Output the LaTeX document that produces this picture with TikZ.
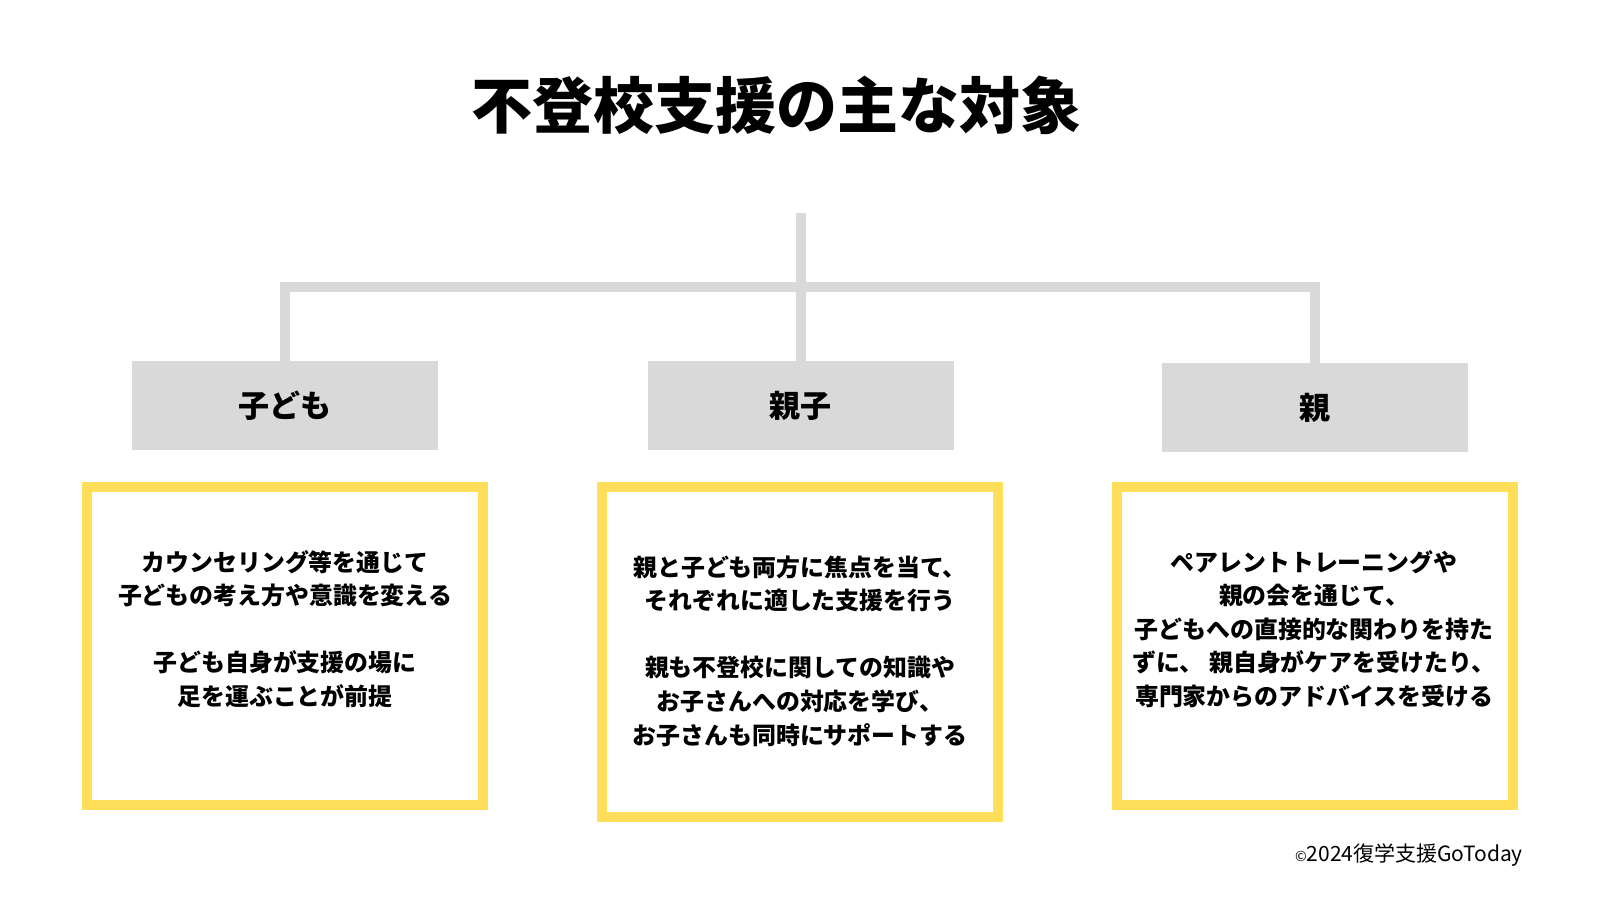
\documentclass[tikz,border=0pt]{standalone}
\usepackage{fontspec}
\setmainfont{Noto Sans CJK JP}
\definecolor{linegray}{HTML}{D9D9D9}
\definecolor{boxyellow}{HTML}{FFDE59}
\begin{document}
\begin{tikzpicture}[x=1pt,y=-1pt,
  catbox/.style={fill=linegray,draw=none,minimum width=306pt,minimum height=89pt,inner sep=0pt,
    font=\fontsize{31}{31}\selectfont\bfseries},
  framebox/.style={draw=boxyellow,line width=10pt,fill=white},
  bodytext/.style={align=center,inner sep=0pt,font=\fontsize{23.9}{33.6}\selectfont\bfseries},
  tree/.style={draw=linegray,line width=10pt}]
\useasboundingbox (0,0) rectangle (1600,900);
\fill[white] (0,0) rectangle (1600,900);
% title
\node[font=\fontsize{61}{61}\selectfont\bfseries,inner sep=0pt] (title) at (776,105) {不登校支援の主な対象};
% category boxes
\node[catbox] (kodomo) at (284.7,405.5) {子ども};
\node[catbox] (oyako) at (800.5,405.5) {親子};
\node[catbox] (oya) at (1315,407.5) {親};
% tree connectors
\coordinate (root) at (800.5,213);
\coordinate (joint) at (800.5,287);
\draw[tree] (root) -- (joint);
\draw[tree] (kodomo.north) |- (joint) -| (oya.north);
\draw[tree] (joint) -- (oyako.north);
% yellow frames
\draw[framebox] (86.7,487) rectangle (483,805);
\draw[framebox] (601.7,487) rectangle (998,817);
\draw[framebox] (1116.7,487) rectangle (1513,805);
% texts
\node[bodytext] (t1) at (285,629) {カウンセリング等を通じて\\子どもの考え方や意識を変える\\[33.6pt]子ども自身が支援の場に\\足を運ぶことが前提};
\node[bodytext] (t2) at (800,651) {親と子ども両方に焦点を当て、\\ それぞれに適した支援を行う\\[33.6pt]親も不登校に関しての知識や\\お子さんへの対応を学び、\\お子さんも同時にサポートする};
\node[bodytext] (t3) at (1314,629) {ペアレントトレーニングや\\親の会を通じて、\\子どもへの直接的な関わりを持た\\ずに、 親自身がケアを受けたり、\\専門家からのアドバイスを受ける};
% footer
\node[anchor=east,inner sep=0pt,font=\fontsize{21}{21}\selectfont] (footer) at (1523,855) {{\fontsize{14}{14}\selectfont ©}2024復学支援GoToday};
\end{tikzpicture}
\end{document}
